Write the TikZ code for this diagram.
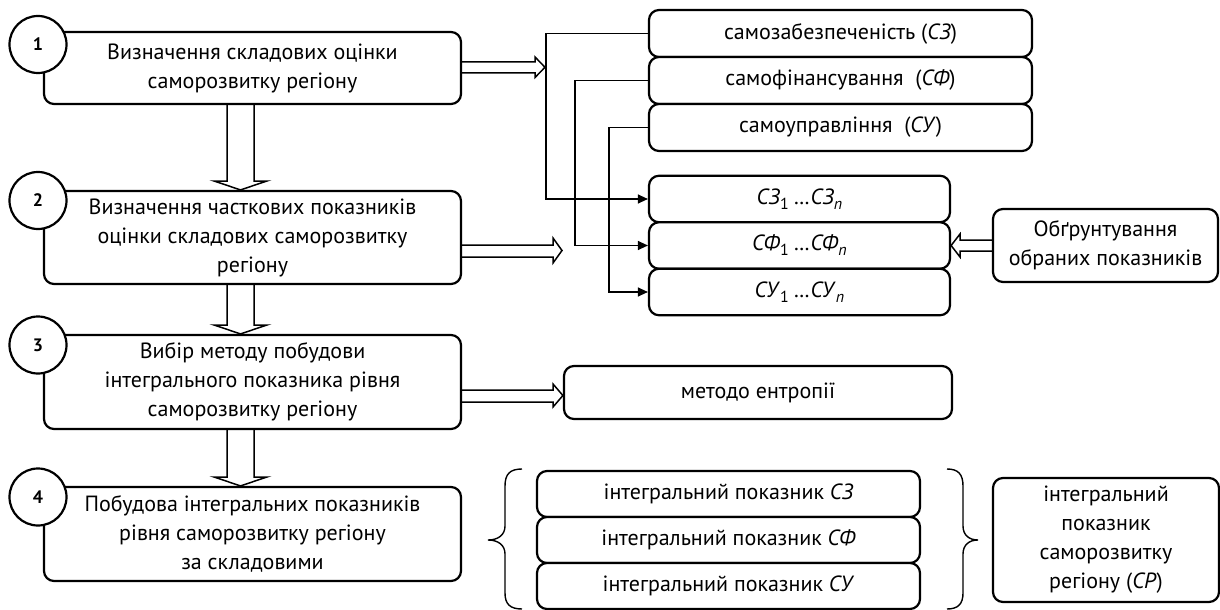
\documentclass[tikz,border=0pt]{standalone}
\usepackage{fontspec}
\setmainfont{PT Sans}
\usetikzlibrary{arrows.meta}
\newcommand\mfs{\fontsize{11}{14.5}\selectfont}
\newcommand\sbs[1]{\raisebox{-0.45ex}{\fontsize{8}{8}\selectfont #1}}
\begin{document}
\begin{tikzpicture}[x=0.5pt,y=-0.5pt,
  box/.style={draw, line width=1.1pt, rounded corners=5pt, align=center, inner sep=0pt, font=\mfs, fill=white},
  num/.style={circle, draw, line width=1.1pt, fill=white, minimum size=28.5pt, inner sep=0pt, font=\fontsize{9}{9}\selectfont\bfseries},
  dbl/.style={draw, line width=0.75pt, line join=miter},
  conn/.style={draw, line width=0.6pt, -{Triangle[length=5pt,width=4.5pt]}},
  brc/.style={draw, line width=0.7pt}]
\useasboundingbox (0,0) rectangle (1220,610);
% main steps
\node[box, minimum width=208.5pt, minimum height=36pt] (b1) at (252.5,68) {Визначення складових оцінки\\саморозвитку регіону};
\node[box, minimum width=208.5pt, minimum height=46.5pt] (b2) at (252.5,237.5) {Визначення часткових показників\\оцінки складових саморозвитку\\регіону};
\node[box, minimum width=208.5pt, minimum height=47pt] (b3) at (252.5,382) {Вибір методу побудови\\інтегрального показника рівня\\саморозвитку регіону};
\node[box, minimum width=208.5pt, minimum height=47pt] (b4) at (252.5,534) {Побудова інтегральних показників\\рівня саморозвитку регіону\\за складовими};
\node[num] (c1) at (38,44.5) {1};
\node[num] (c2) at (38,200.5) {2};
\node[num] (c3) at (38,345) {3};
\node[num] (c4) at (38,497) {4};
% right column
\node[box, minimum width=191.5pt, minimum height=23.5pt] (t1) at (840.5,33.5) {самозабезпеченість (\textit{СЗ})};
\node[box, minimum width=191.5pt, minimum height=23.5pt] (t2) at (840.5,80.5) {самофінансування\ \ (\textit{СФ})};
\node[box, minimum width=191.5pt, minimum height=23.5pt] (t3) at (840.5,127.5) {самоуправління\ \ (\textit{СУ})};
\node[box, minimum width=150.5pt, minimum height=23.25pt] (s1) at (799.5,199) {\textit{СЗ}\sbs{1} \textit{…СЗ}\sbs{\textit{n}}};
\node[box, minimum width=150.5pt, minimum height=23.25pt] (s2) at (799.5,245.5) {\textit{СФ}\sbs{1} \textit{…СФ}\sbs{\textit{n}}};
\node[box, minimum width=150.5pt, minimum height=23.25pt] (s3) at (799.5,292) {\textit{СУ}\sbs{1} \textit{…СУ}\sbs{\textit{n}}};
\node[box, minimum width=112.5pt, minimum height=36.5pt] (ob) at (1105.5,245.5) {Обґрунтування\\обраних показників};
\node[box, minimum width=194pt, minimum height=26.5pt] (m) at (758,392.5) {методо ентропії};
\node[box, minimum width=191.5pt, minimum height=23pt] (i1) at (728.5,494) {інтегральний показник \textit{СЗ}};
\node[box, minimum width=191.5pt, minimum height=23pt] (i2) at (728.5,540) {інтегральний показник \textit{СФ}};
\node[box, minimum width=191.5pt, minimum height=23pt] (i3) at (728.5,586) {інтегральний показник \textit{СУ}};
\node[box, minimum width=113pt, minimum height=62pt] (cp) at (1106,540) {інтегральний\\показник\\саморозвитку\\регіону (\textit{СР})};
% vertical double arrows
\draw[dbl] (227,0 |- b1.south) -- (227,181) -- (214,181) -- (240.5,0 |- b2.north) -- (267,181) -- (254,181) -- (254,0 |- b1.south);
\draw[dbl] (227,0 |- b2.south) -- (227,325) -- (214,325) -- (240.5,0 |- b3.north) -- (267,325) -- (254,325) -- (254,0 |- b2.south);
\draw[dbl] (227,0 |- b3.south) -- (227,477) -- (214,477) -- (240.5,0 |- b4.north) -- (267,477) -- (254,477) -- (254,0 |- b3.south);
% horizontal double arrows
\coordinate (h1tip) at (545,67.25);
\coordinate (h2tip) at (562,250.5);
\draw[dbl] (b1.east |- 0,62) -- (535,62) -- (535,57) -- (h1tip) -- (535,77.5) -- (535,73) -- (b1.east |- 0,73);
\draw[dbl] (b2.east |- 0,245) -- (553,245) -- (553,238) -- (h2tip) -- (553,263) -- (553,257) -- (b2.east |- 0,257);
\draw[dbl] (b3.east |- 0,390) -- (553,390) -- (553,384) -- (m.west |- 0,395.5) -- (553,407) -- (553,402) -- (b3.east |- 0,402);
\draw[dbl] (ob.west |- 0,240) -- (960,240) -- (960,234) -- (s2.east |- 0,245.5) -- (960,257) -- (960,251) -- (ob.west |- 0,251);
% connectors
\draw[conn] (t1.west) -- (546,0 |- t1.west) -- (546,0 |- s1.west) -- (s1.west);
\draw[conn] (t2.west) -- (575,0 |- t2.west) -- (575,0 |- s2.west) -- (s2.west);
\draw[conn] (t3.west) -- (609,0 |- t3.west) -- (609,0 |- s3.west) -- (s3.west);
% braces
\draw[brc] (522,469) .. controls (510,469) and (505,474) .. (505,486) -- (505,526) .. controls (505,535) and (498,540) .. (488,540) .. controls (498,540) and (505,545) .. (505,554) -- (505,593) .. controls (505,604) and (510,609) .. (522,609);
\draw[brc] (947,469) .. controls (958,469) and (963,474) .. (963,486) -- (963,526) .. controls (963,535) and (969,540) .. (978,540) .. controls (969,540) and (963,545) .. (963,554) -- (963,593) .. controls (963,604) and (958,609) .. (947,609);
\end{tikzpicture}
\end{document}
